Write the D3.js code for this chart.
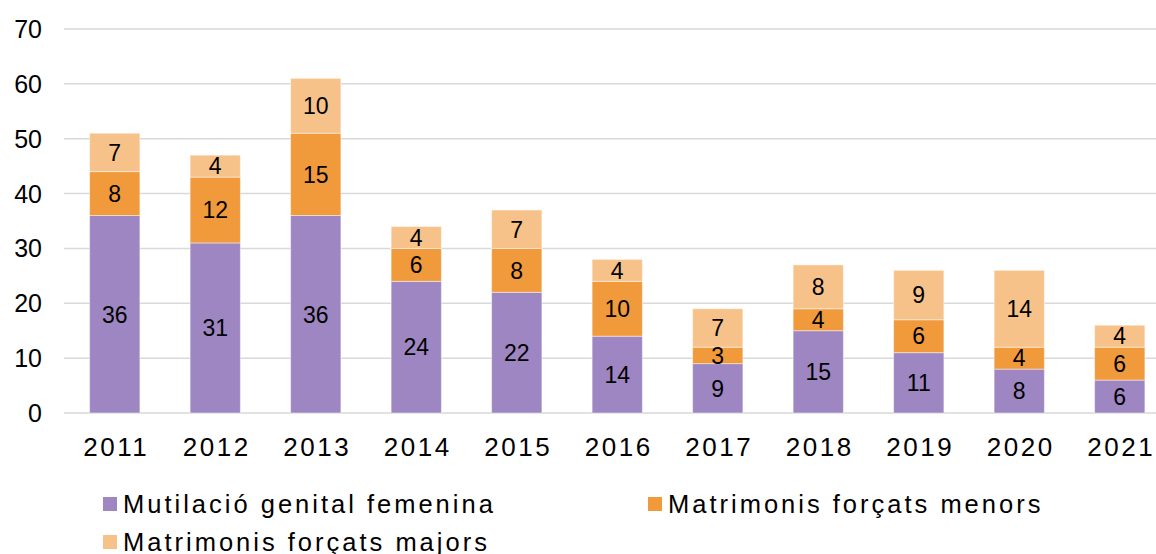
<!DOCTYPE html>
<html>
<head>
<meta charset="utf-8">
<script src="https://cdn.jsdelivr.net/npm/d3@7"></script>
<style>
  html, body { margin: 0; padding: 0; background: #fff; }
  svg { display: block; font-family: "Liberation Sans", Arial, sans-serif; }
</style>
</head>
<body>
<svg id="chart" width="1156" height="554"></svg>
<script>
// Yearly case counts, stacked by type
const years = ["2011","2012","2013","2014","2015","2016","2017","2018","2019","2020","2021"];
const mutilacio = [36,31,36,24,22,14,9,15,11,8,6];
const matrimonisMenors = [8,12,15,6,8,10,3,4,6,4,6];
const matrimonisMajors = [7,4,10,4,7,4,7,8,9,14,4];
const seriesNames = ["Mutilació genital femenina","Matrimonis forçats menors","Matrimonis forçats majors"];
const yTicks = [0,10,20,30,40,50,60,70];

const colors = ["#9d86c2", "#f09a3c", "#f7c28a"];
const seriesValues = [mutilacio, matrimonisMenors, matrimonisMajors];

const rows = years.map((y, i) => {
  const r = { year: y };
  seriesNames.forEach((n, k) => r[n] = seriesValues[k][i]);
  return r;
});
const stacked = d3.stack().keys(seriesNames)(rows);

const svg = d3.select("#chart");
const x = d3.scaleBand().domain(years).range([64.5, 1170]).paddingInner(0.5).paddingOuter(0.25);
const y = d3.scaleLinear().domain([0, 70]).range([413, 29]);

// Gridlines
svg.append("g").selectAll("line").data(yTicks).join("line")
  .attr("x1", 64).attr("x2", 1156)
  .attr("y1", d => y(d)).attr("y2", d => y(d))
  .attr("stroke", "#d9d9d9").attr("stroke-width", 1.5);

// Y tick labels
svg.append("g").selectAll("text").data(yTicks).join("text")
  .attr("x", 42).attr("y", d => y(d)).attr("dy", "0.36em")
  .attr("text-anchor", "end").attr("font-size", 25).attr("fill", "#000")
  .text(d => d);

// Stacked bars
const layers = svg.append("g").selectAll("g").data(stacked).join("g")
  .attr("fill", (d, i) => colors[i]);
layers.selectAll("rect").data(d => d).join("rect")
  .attr("x", d => x(d.data.year))
  .attr("width", x.bandwidth())
  .attr("y", d => y(d[1]))
  .attr("height", d => y(d[0]) - y(d[1]))
  .attr("stroke", "rgba(255,255,255,0.45)").attr("stroke-width", 1);

// Segment value labels
stacked.forEach((layer, k) => {
  svg.append("g").selectAll("text").data(layer).join("text")
    .attr("x", d => x(d.data.year) + x.bandwidth() / 2)
    .attr("y", d => (y(d[0]) + y(d[1])) / 2)
    .attr("dy", "0.36em")
    .attr("text-anchor", "middle").attr("font-size", 23).attr("fill", "#000")
    .text(d => d.data[seriesNames[k]]);
});

// X axis labels
svg.append("g").selectAll("text").data(years).join("text")
  .attr("x", d => x(d) + x.bandwidth() / 2 + 1.5)
  .attr("y", 456)
  .attr("text-anchor", "middle").attr("font-size", 26).attr("letter-spacing", 2.5)
  .attr("fill", "#000")
  .text(d => d);

// Legend
const legendPos = [[103, 497], [648, 497], [103, 535]];
const legend = svg.append("g").selectAll("g").data(seriesNames).join("g")
  .attr("transform", (d, i) => `translate(${legendPos[i][0]},${legendPos[i][1]})`);
legend.append("rect").attr("width", 14).attr("height", 14).attr("fill", (d, i) => colors[i]);
legend.append("text").attr("x", 20).attr("y", 16)
  .attr("font-size", 25.5).attr("letter-spacing", 3).attr("fill", "#000")
  .text(d => d);
</script>
</body>
</html>
